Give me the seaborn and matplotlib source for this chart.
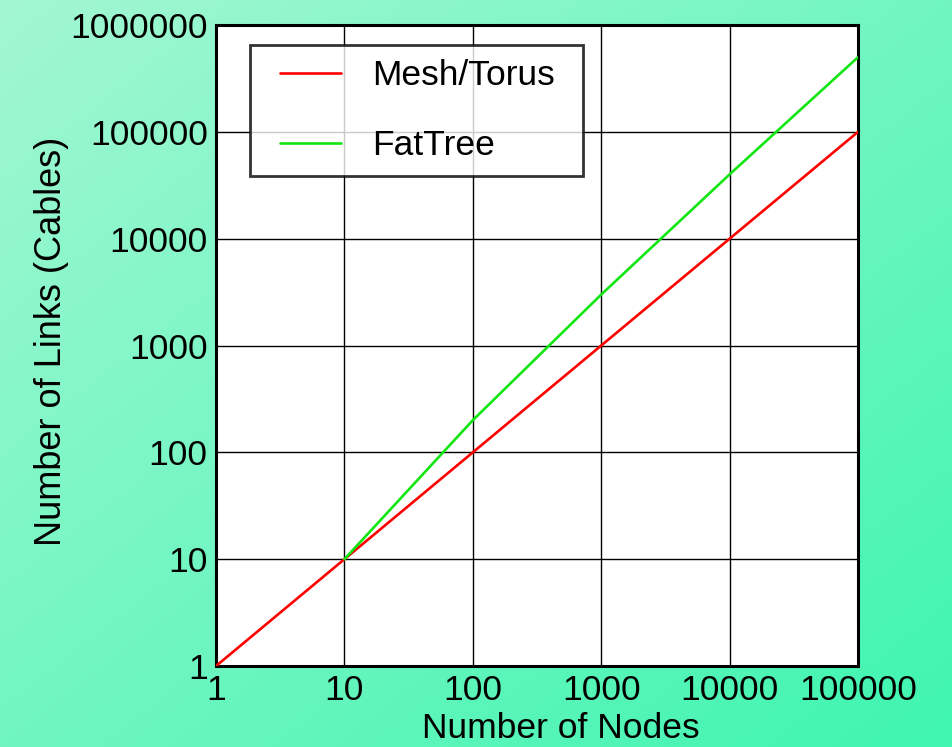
import numpy as np
import pandas as pd
import matplotlib
matplotlib.use("Agg")
import matplotlib.pyplot as plt
import seaborn as sns
from matplotlib.colors import LinearSegmentedColormap
from matplotlib.legend_handler import HandlerLine2D
from matplotlib.lines import Line2D

# data
mesh_nodes = [1, 10, 100, 1000, 10000, 100000]
mesh_links = [1, 10, 100, 1000, 10000, 100000]
fat_nodes = [10, 100, 1000, 10000, 100000]
fat_links = [10, 200, 3000, 40000, 500000]
tick_vals_x = [1, 10, 100, 1000, 10000, 100000]
tick_vals_y = [1, 10, 100, 1000, 10000, 100000, 1000000]

df = pd.concat([
    pd.DataFrame({"nodes": mesh_nodes, "links": mesh_links, "topo": "Mesh/Torus"}),
    pd.DataFrame({"nodes": fat_nodes, "links": fat_links, "topo": "FatTree"}),
], ignore_index=True)

sns.set_style("white")
plt.rcParams["font.family"] = ["Liberation Sans", "DejaVu Sans"]
plt.rcParams["text.color"] = "black"
plt.rcParams["axes.labelcolor"] = "black"
plt.rcParams["xtick.color"] = "black"
plt.rcParams["ytick.color"] = "black"

FS = 25.5

fig = plt.figure(figsize=(9.52, 7.47), dpi=100)

# green diagonal gradient background
bg = fig.add_axes([0, 0, 1, 1], zorder=-10)
gx, gy = np.meshgrid(np.linspace(0, 1, 200), np.linspace(0, 1, 200))
grad = (gx + gy) / 2
cmap = LinearSegmentedColormap.from_list("bg", ["#a2f7d2", "#3ff5b0"])
bg.imshow(grad, cmap=cmap, aspect="auto", extent=[0, 1, 0, 1], origin="upper")
bg.axis("off")

ax = fig.add_axes([0.2269, 0.1084, 0.6744, 0.8581])
ax.set_facecolor("white")
sns.lineplot(data=df, x="nodes", y="links", hue="topo",
             palette={"Mesh/Torus": "#ff0000", "FatTree": "#11e611"},
             linewidth=1.9, ax=ax, zorder=3)
ax.set_xscale("log")
ax.set_yscale("log")
ax.set_xlim(1, 100000)
ax.set_ylim(1, 1000000)
ax.set_xticks(tick_vals_x)
ax.set_xticklabels([str(v) for v in tick_vals_x])
ax.set_yticks(tick_vals_y)
ax.set_yticklabels([str(v) for v in tick_vals_y])
ax.minorticks_off()
ax.tick_params(length=0, labelsize=FS, pad=6)
ax.grid(True, color="black", linewidth=1.0)
for s in ax.spines.values():
    s.set_linewidth(2.2)
    s.set_color("black")

ax.set_xlabel("Number of Nodes", fontsize=FS)
ax.set_ylabel("Number of Links (Cables)", fontsize=FS + 0.5)
ax.xaxis.set_label_coords(0.537, -0.072)
ax.yaxis.set_label_coords(-0.229, 0.507)

leg = ax.legend(loc="upper left", bbox_to_anchor=(0.053, 0.763, 0.519, 0.206),
                mode="expand", borderaxespad=0,
                fontsize=FS, frameon=True, fancybox=False, edgecolor="black",
                handlelength=2.18, handletextpad=0.88, labelspacing=1.05,
                borderpad=0.4,
                handler_map={Line2D: HandlerLine2D(xpad=0.44)})
leg.get_frame().set_linewidth(2.0)
leg.set_title(None)
for line in leg.get_lines():
    line.set_linewidth(1.9)

fig.savefig("out.png", dpi=100)
